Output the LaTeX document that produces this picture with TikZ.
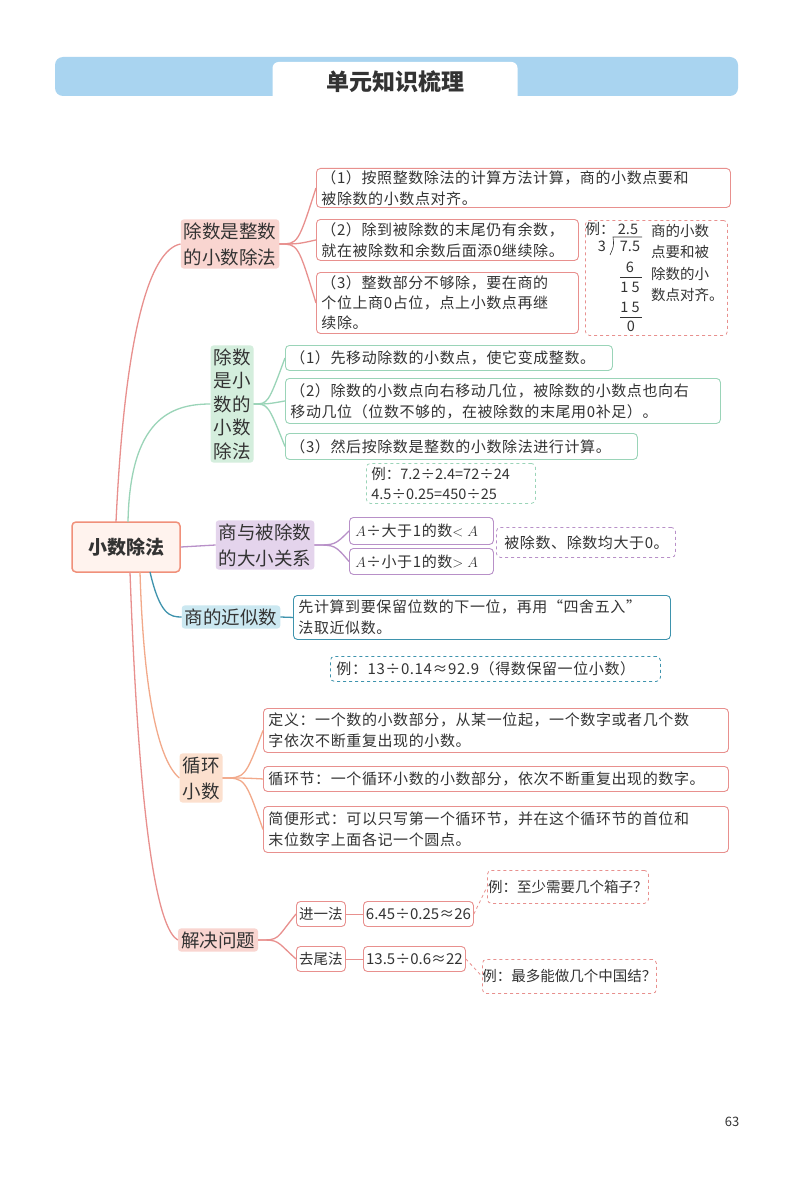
\documentclass[tikz,border=0pt]{standalone}
\usepackage{fontspec}
\setmainfont{Noto Sans CJK SC}
\usetikzlibrary{calc}
\definecolor{rl}{HTML}{E8908E}\definecolor{rf}{HTML}{F9D5D0}
\definecolor{gl}{HTML}{9AD4B8}\definecolor{gf}{HTML}{D4EEDD}
\definecolor{pl}{HTML}{B890C8}\definecolor{pf}{HTML}{E4D4EC}
\definecolor{bl}{HTML}{3E93AD}\definecolor{bf}{HTML}{CBE8F1}
\definecolor{ol}{HTML}{F2A98A}\definecolor{of}{HTML}{FCE0CE}
\definecolor{rootl}{HTML}{F0907A}\definecolor{rootf}{HTML}{FFF3EE}
\definecolor{tb}{HTML}{A9D4F0}\definecolor{txt}{HTML}{333333}
\newcommand\lf{\fontsize{15}{21}\selectfont\addfontfeature{LetterSpace=4}}
\newcommand\smf{\fontsize{14.5}{18}\selectfont}
\tikzset{
 leaf/.style={draw=#1, rounded corners=4pt, line width=0.9pt, fill=white, inner sep=0pt, align=left, anchor=north west, font=\lf, text=txt},
 br/.style={fill=#1, rounded corners=3pt, inner sep=3pt, align=center, font=\fontsize{18.5}{26}\selectfont, text=txt},
 ex/.style={draw=#1, dashed, rounded corners=4pt, line width=0.8pt, fill=white, inner sep=0pt, align=left, anchor=north west, font=\lf, text=txt},
 con/.style={draw=#1, line width=1.3pt},
}
\begin{document}
\begin{tikzpicture}[x=1pt,y=-1pt]
\useasboundingbox[fill=white] (0,0) rectangle (800,1177);
% title
\fill[tb, rounded corners=8pt] (55,57) rectangle (738,96);
\node[fill=white, rounded corners=6pt, minimum width=245pt, minimum height=40pt, font=\fontsize{23}{28}\selectfont\bfseries, text=txt] (title) at (395,82) {单元知识梳理};
% root
\node[draw=rootl, fill=rootf, line width=1.5pt, rounded corners=4pt, minimum width=108pt, minimum height=50pt, font=\fontsize{19}{22}\selectfont\bfseries, text=txt] (root) at (126,547) {小数除法};
% branches
\node[br=rf] (b1) at (230,244) {除数是整数\\的小数除法};
\node[br=gf, font=\fontsize{18.5}{23.5}\selectfont] (b2) at (232,404) {除数\\是小\\数的\\小数\\除法};
\node[br=pf] (b3) at (265,545) {商与被除数\\的大小关系};
\node[br=bf] (b4) at (231,617) {商的近似数};
\node[br=of] (b5) at (201,778) {循环\\小数};
\node[br=rf] (b6) at (218,940) {解决问题};
% root connectors
\draw[con=rl] (116,522) .. controls (125,330) and (150,250) .. (b1.west);
\draw[con=gl] (128,522) .. controls (130,420) and (170,404) .. (b2.west);
\draw[con=pl] (root.east) -- (b3.west);
\draw[con=bl] (150,572) .. controls (160,615) and (170,617) .. (b4.west);
\draw[con=ol] (140,572) .. controls (145,740) and (170,770) .. (b5.west);
\draw[con=rl] (130,572) .. controls (140,850) and (160,930) .. (b6.west);
% B1 leaves
\node[leaf=rl, minimum width=414pt, minimum height=39pt, text width=410pt] (l11) at (316,168) {\hspace{3pt}（1）按照整数除法的计算方法计算，商的小数点要和\\\hspace{3pt}被除数的小数点对齐。};
\node[leaf=rl, minimum width=262pt, minimum height=41pt, text width=258pt] (l12) at (316,219) {\hspace{3pt}（2）除到被除数的末尾仍有余数，\\\hspace{3pt}就在被除数和余数后面添0继续除。};
\node[leaf=rl, minimum width=262pt, minimum height=61pt, text width=258pt, font=\lf\linespread{0.95}\selectfont] (l13) at (316,272) {\hspace{3pt}（3）整数部分不够除，要在商的\\\hspace{3pt}个位上商0占位，点上小数点再继\\\hspace{3pt}续除。};
\foreach \n in {l11,l12,l13} \draw[con=rl] (b1.east) .. controls (298,244) and (298,244) .. (\n.west);
\node[ex=rl, minimum width=142pt, minimum height=115pt] (e1) at (585,220) {};
\begin{scope}[font=\fontsize{14.5}{16}\selectfont, text=txt]
\node (e1a) at (600,229) {例：};
\node (e1b) at (628,229) {2.5};
\node (e1c) at (602,246) {3};
\node (e1d) at (630,246) {7.5};
\draw[txt, line width=0.6pt] (610,255) .. controls (614,246) .. (613,237) -- (642,237);
\node (e1e) at (630,267) {6};
\draw[txt, line width=0.6pt] (620,277) -- (642,277);
\node (e1f) at (630,287) {1 5};
\node (e1g) at (630,307) {1 5};
\draw[txt, line width=0.6pt] (620,317) -- (642,317);
\node (e1h) at (631,326) {0};
\node[align=left, font=\fontsize{14.5}{21.5}\selectfont, anchor=north west, inner sep=0pt] (e1t) at (651,224) {商的小数\\点要和被\\除数的小\\数点对齐。};
\end{scope}
% B2 leaves
\node[leaf=gl, minimum width=327pt, minimum height=25pt, text width=323pt] (l21) at (285,345) {\hspace{3pt}（1）先移动除数的小数点，使它变成整数。};
\node[leaf=gl, minimum width=435pt, minimum height=45pt, text width=431pt] (l22) at (285,378) {\hspace{3pt}（2）除数的小数点向右移动几位，被除数的小数点也向右\\\hspace{3pt}移动几位（位数不够的，在被除数的末尾用0补足）。};
\node[leaf=gl, minimum width=352pt, minimum height=26pt, text width=348pt] (l23) at (285,433) {\hspace{3pt}（3）然后按除数是整数的小数除法进行计算。};
\foreach \n in {l21,l22,l23} \draw[con=gl] (b2.east) .. controls (268,404) and (268,404) .. (\n.west);
\node[ex=gl, minimum width=169pt, minimum height=40pt, text width=165pt, font=\smf\linespread{1.1}\selectfont] (e2) at (366,463) {\hspace{3pt}例：7.2÷2.4=72÷24\\\hspace{3pt}4.5÷0.25=450÷25};
% B3 leaves
\node[leaf=pl, minimum width=144pt, minimum height=27pt, text width=140pt] (l31) at (349,517) {\hspace{4pt}$A$÷大于1的数$<A$};
\node[leaf=pl, minimum width=144pt, minimum height=26pt, text width=140pt] (l32) at (349,548) {\hspace{4pt}$A$÷小于1的数$>A$};
\foreach \n in {l31,l32} \draw[con=pl] (b3.east) .. controls (335,545) and (335,545) .. (\n.west);
\node[ex=pl, minimum width=179pt, minimum height=30pt, text width=175pt] (e3) at (496,527) {\hspace{6pt}被除数、除数均大于0。};
% B4
\node[leaf=bl, minimum width=377pt, minimum height=44pt, text width=373pt] (l41) at (293,595) {\hspace{3pt}先计算到要保留位数的下一位，再用“四舍五入”\\\hspace{3pt}法取近似数。};
\draw[con=bl] (b4.east) -- (l41.west);
\node[ex=bl, minimum width=330pt, minimum height=25pt, text width=326pt] (e4) at (330,656) {\hspace{4pt}例：13÷0.14≈92.9（得数保留一位小数）};
% B5
\node[leaf=rl, minimum width=465pt, minimum height=44pt, text width=461pt] (l51) at (263,708) {\hspace{3pt}定义：一个数的小数部分，从某一位起，一个数字或者几个数\\\hspace{3pt}字依次不断重复出现的小数。};
\node[leaf=rl, minimum width=465pt, minimum height=25pt, text width=461pt] (l52) at (263,766) {\hspace{3pt}循环节：一个循环小数的小数部分，依次不断重复出现的数字。};
\node[leaf=rl, minimum width=465pt, minimum height=46pt, text width=461pt] (l53) at (263,806) {\hspace{3pt}简便形式：可以只写第一个循环节，并在这个循环节的首位和\\\hspace{3pt}末位数字上面各记一个圆点。};
\foreach \n in {l51,l52,l53} \draw[con=ol] (b5.east) .. controls (245,778) and (245,778) .. (\n.west);
% B6
\node[leaf=rl, minimum width=49pt, minimum height=25pt, align=center, anchor=west, font=\smf] (l61) at (296,914) {进一法};
\node[leaf=rl, minimum width=49pt, minimum height=25pt, align=center, anchor=west, font=\smf] (l62) at (296,959) {去尾法};
\foreach \n in {l61,l62} \draw[con=rl] (b6.east) .. controls (280,940) and (275,940) .. (\n.west);
\node[leaf=rl, minimum width=110pt, minimum height=25pt, align=center, anchor=west, font=\fontsize{15}{18}\selectfont] (l63) at (363,914) {6.45÷0.25≈26};
\node[leaf=rl, minimum width=102pt, minimum height=25pt, align=center, anchor=west, font=\fontsize{15}{18}\selectfont] (l64) at (363,959) {13.5÷0.6≈22};
\draw[con=rl, line width=1pt] (l61.east) -- (l63.west);
\draw[con=rl, line width=1pt] (l62.east) -- (l64.west);
\node[ex=rl, minimum width=161pt, minimum height=33pt, align=center, font=\smf] (e61) at (487,870) {例：至少需要几个箱子？};
\node[ex=rl, minimum width=164pt, minimum height=34pt, align=center, font=\smf] (e62) at (482,959) {例：最多能做几个中国结？};
\draw[rl, dashed, line width=0.8pt] (l63.east) -- (e61.west);
\draw[rl, dashed, line width=0.8pt] (l64.east) -- (e62.west);
% page number
\node[font=\fontsize{13}{15}\selectfont, text=txt] (pg) at (732,1122) {63};
\end{tikzpicture}
\end{document}
